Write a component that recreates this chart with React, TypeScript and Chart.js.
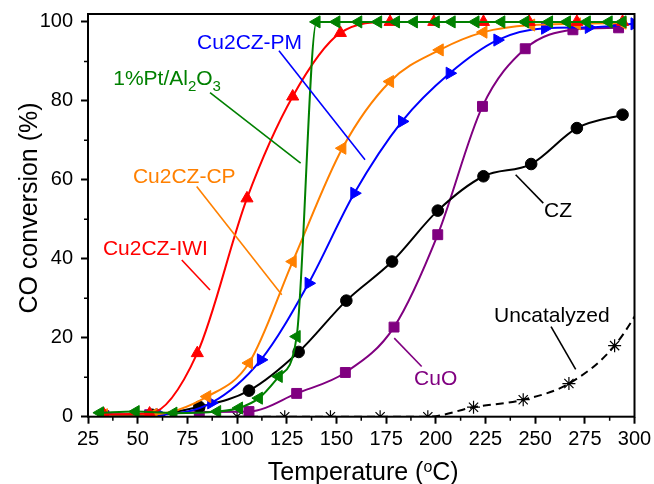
import { useEffect, useRef } from "react";
import { Chart, registerables } from "chart.js";

Chart.register(...registerables);

// Light-off curves: temperature (°C) vs CO conversion (%)
const ptTemp = [31, 49, 68, 90, 101, 111, 121, 130, 140, 150, 161, 171, 180, 189, 200, 208, 220, 233, 245, 257, 266, 276, 287, 294];
const ptConv = [1, 1.3, 0.9, 1.3, 2.2, 4.7, 10.2, 20.3, 100, 100, 100, 100, 100, 100, 100, 100, 100, 100, 100, 100, 100, 100, 100, 100];

const iwiTemp = [33, 56, 80, 105, 128, 152, 177, 199, 224, 247, 271, 294];
const iwiConv = [0.6, 0.8, 16.1, 55.3, 81.1, 97.2, 100, 100, 100, 100, 100, 100];

const cpTemp = [33, 58, 85, 106, 128, 153, 177, 202, 224, 248, 271, 294];
const cpConv = [0.5, 0.6, 5.1, 13.6, 39.3, 68, 84.9, 92.9, 97.4, 99.2, 99.5, 99.7];

const pmTemp = [34, 61, 87, 112, 136, 159, 183, 207, 231, 255, 277, 300];
const pmConv = [0.6, 0.6, 3.5, 14.4, 33.8, 56.6, 74.8, 87, 95.4, 98.4, 98.6, 99.5];

const czTemp = [33, 57, 81, 106, 131, 155, 178, 201, 224, 248, 271, 294];
const czConv = [0.3, 0.5, 2.5, 6.6, 16.4, 29.4, 39.3, 52.2, 60.9, 64, 73.1, 76.5];

const cuoTemp = [33, 56, 81, 106, 130, 154.5, 179, 201, 223.5, 245, 269, 292];
const cuoConv = [0.3, 0.5, 1.2, 1.3, 5.9, 11.2, 22.7, 46.1, 78.6, 93.2, 98, 98.5];

const blankTemp = [100, 124, 147, 172, 196, 219, 244, 267, 290, 315];
const blankConv = [0, 0, 0, 0, 0, 2.4, 4.3, 8.4, 18, 38];

const xMin = 25;
const xMax = 300;
const xStep = 25;
const yMin = 0;
const yMax = 102;
const yStep = 20;

const FONT = "'Liberation Sans', Arial, sans-serif";

type Callout = {
  parts: { t: string; sub?: boolean }[];
  color: string;
  at: [number, number];
  from: [number, number];
  to: [number, number];
};

// Series names with leader lines, placed in data units
const callouts: Callout[] = [
  { parts: [{ t: "Cu2CZ-PM" }], color: "#0000ff", at: [79.9, 93.2], from: [121.1, 92.7], to: [164.4, 65.1] },
  {
    parts: [{ t: "1%Pt/Al" }, { t: "2", sub: true }, { t: "O" }, { t: "3", sub: true }],
    color: "#008000",
    at: [37.7, 84.1],
    from: [86.4, 82.1],
    to: [132.0, 64.2],
  },
  { parts: [{ t: "Cu2CZ-CP" }], color: "#ff8000", at: [47.6, 59.2], from: [79.7, 58.3], to: [122.5, 30.9] },
  { parts: [{ t: "Cu2CZ-IWI" }], color: "#ff0000", at: [32.5, 41.0], from: [72.2, 39.7], to: [86.4, 32.1] },
  { parts: [{ t: "CZ" }], color: "#000000", at: [254.5, 50.6], from: [240.2, 61.3], to: [254.1, 54.1] },
  { parts: [{ t: "CuO" }], color: "#800080", at: [189.1, 8.0], from: [179.1, 19.9], to: [192.9, 12.7] },
  { parts: [{ t: "Uncatalyzed" }], color: "#000000", at: [229.3, 24.1], from: [258.0, 22.8], to: [270.4, 12.0] },
];

const pts = (xs: number[], ys: number[]) => xs.map((x, i) => ({ x, y: ys[i] }));

const overlay = {
  id: "overlay",
  afterDatasetsDraw(chart: any) {
    const { ctx, chartArea: a } = chart;
    const xs = chart.scales.x;
    const ys = chart.scales.y;
    ctx.save();

    // box frame
    ctx.strokeStyle = "#000";
    ctx.lineWidth = 2;
    ctx.strokeRect(a.left, a.top, a.right - a.left, a.bottom - a.top);

    // minor ticks
    ctx.lineWidth = 1.5;
    ctx.beginPath();
    for (let v = xMin + xStep / 2; v < xMax; v += xStep) {
      const px = xs.getPixelForValue(v);
      ctx.moveTo(px, a.bottom);
      ctx.lineTo(px, a.bottom + 4);
    }
    for (let v = yMin + yStep / 2; v < yMax; v += yStep) {
      const py = ys.getPixelForValue(v);
      ctx.moveTo(a.left, py);
      ctx.lineTo(a.left - 4, py);
    }
    ctx.stroke();

    // callouts
    ctx.textBaseline = "alphabetic";
    ctx.textAlign = "left";
    for (const c of callouts) {
      ctx.strokeStyle = c.color;
      ctx.fillStyle = c.color;
      ctx.lineWidth = 1.6;
      ctx.beginPath();
      ctx.moveTo(xs.getPixelForValue(c.from[0]), ys.getPixelForValue(c.from[1]));
      ctx.lineTo(xs.getPixelForValue(c.to[0]), ys.getPixelForValue(c.to[1]));
      ctx.stroke();
      let px = xs.getPixelForValue(c.at[0]);
      const py = ys.getPixelForValue(c.at[1]);
      for (const p of c.parts) {
        ctx.font = p.sub ? `15px ${FONT}` : `21px ${FONT}`;
        ctx.fillText(p.t, px, py + (p.sub ? 6 : 0));
        px += ctx.measureText(p.t).width;
      }
    }

    // axis titles
    ctx.fillStyle = "#000";
    ctx.font = `25px ${FONT}`;
    const pre = "Temperature (";
    const post = "C)";
    const wPre = ctx.measureText(pre).width;
    const wPost = ctx.measureText(post).width;
    ctx.font = `16px ${FONT}`;
    const wSup = ctx.measureText("o").width;
    const cx = (a.left + a.right) / 2 + 2;
    let tx = cx - (wPre + wSup + wPost) / 2;
    const base = 480;
    ctx.font = `25px ${FONT}`;
    ctx.fillText(pre, tx, base);
    tx += wPre;
    ctx.font = `16px ${FONT}`;
    ctx.fillText("o", tx, base - 8);
    tx += wSup;
    ctx.font = `25px ${FONT}`;
    ctx.fillText(post, tx, base);

    ctx.translate(37, 208);
    ctx.rotate(-Math.PI / 2);
    ctx.textAlign = "center";
    ctx.fillText("CO conversion (%)", 0, 0);

    ctx.restore();
  },
};

function series(label: string, xs: number[], ys: number[], color: string, style: string, radius: number, rotation = 0, extra: any = {}) {
  return {
    label,
    data: pts(xs, ys),
    borderColor: color,
    backgroundColor: color,
    borderWidth: 2,
    pointStyle: style,
    pointRadius: radius,
    pointRotation: rotation,
    pointBackgroundColor: color,
    pointBorderColor: color,
    pointBorderWidth: 1,
    cubicInterpolationMode: "monotone",
    clip: 0,
    ...extra,
  };
}

// keep the plot box fixed by the layout padding alone
const noScalePadding = (s: any) => {
  s.paddingTop = 0;
  s.paddingBottom = 0;
  s.paddingLeft = 0;
  s.paddingRight = 0;
};

export default function App() {
  const ref = useRef<HTMLCanvasElement | null>(null);

  useEffect(() => {
    if (!ref.current) return;
    const chart = new Chart(ref.current, {
      type: "line",
      data: {
        datasets: [
          series("1%Pt/Al2O3", ptTemp, ptConv, "#008000", "triangle", 7, -90),
          series("Cu2CZ-IWI", iwiTemp, iwiConv, "#ff0000", "triangle", 7, 0),
          series("Cu2CZ-CP", cpTemp, cpConv, "#ff8000", "triangle", 7, -90),
          series("Cu2CZ-PM", pmTemp, pmConv, "#0000ff", "triangle", 7, 90),
          series("CZ", czTemp, czConv, "#000000", "circle", 5.8),
          series("CuO", cuoTemp, cuoConv, "#800080", "rect", 7),
          series("Uncatalyzed", blankTemp, blankConv, "#000000", "star", 6.5, 0, {
            borderDash: [8, 5],
            pointBorderWidth: 1.2,
          }),
        ] as any,
      },
      options: {
        animation: false,
        responsive: false,
        devicePixelRatio: 1,
        layout: { padding: { left: 0, top: 14, right: 19.5, bottom: 0 } },
        plugins: { legend: { display: false }, tooltip: { enabled: false } },
        scales: {
          x: {
            type: "linear",
            min: xMin,
            max: xMax,
            afterFit: (s: any) => {
              s.height = 67.3;
              noScalePadding(s);
            },
            ticks: {
              stepSize: xStep,
              autoSkip: false,
              maxRotation: 0,
              color: "#000",
              padding: 4,
              font: { family: FONT, size: 20 },
            },
            grid: { display: true, drawOnChartArea: false, drawTicks: true, tickLength: 7, tickWidth: 2, tickColor: "#000" },
            border: { display: false },
          },
          y: {
            type: "linear",
            min: yMin,
            max: yMax,
            afterFit: (s: any) => {
              s.width = 88;
              noScalePadding(s);
            },
            ticks: {
              stepSize: yStep,
              includeBounds: false,
              color: "#000",
              padding: 8,
              font: { family: FONT, size: 20 },
            },
            grid: { display: true, drawOnChartArea: false, drawTicks: true, tickLength: 7, tickWidth: 2, tickColor: "#000" },
            border: { display: false },
          },
        },
      },
      plugins: [overlay],
    });
    return () => chart.destroy();
  }, []);

  return (
    <div style={{ position: "fixed", left: 0, top: 0, width: 654, height: 484, background: "#fff" }}>
      <canvas ref={ref} width={654} height={484} />
    </div>
  );
}
